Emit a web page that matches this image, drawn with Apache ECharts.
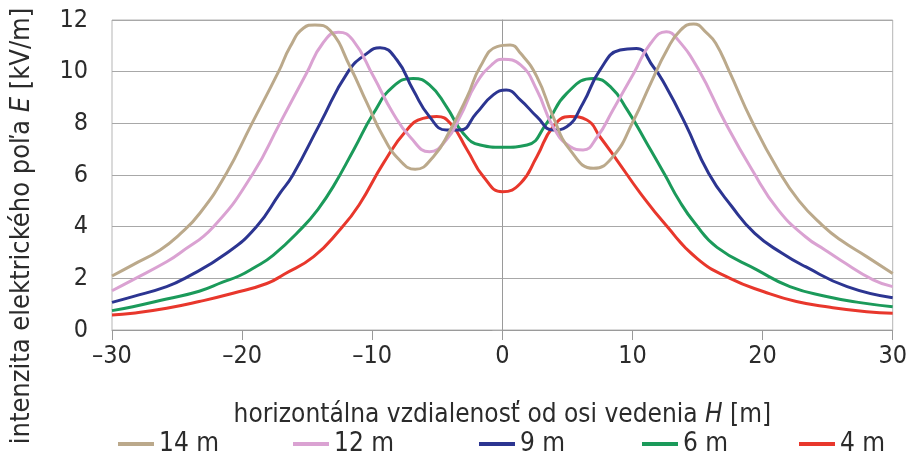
<!DOCTYPE html>
<html>
<head>
<meta charset="utf-8">
<script src="https://cdn.jsdelivr.net/npm/echarts@6/dist/echarts.min.js"></script>
<style>
  html, body { margin: 0; padding: 0; background: #fff; }
  #chart { width: 910px; height: 464px; }
</style>
</head>
<body>
<div id="chart"></div>
<script>
// vyska vodica nad zemou -> priebeh E(H), body odcitane z obrazka
var seriesNames = ["14 m", "12 m", "9 m", "6 m", "4 m"];

var x14 = [-30, -28.4, -26.3, -24.8, -23.25, -21.2, -19.3, -17.2, -16.3, -15.3, -14.4, -13.25, -11.7, -10.4, -9.15, -7.9, -6.7, -5.3, -4, -2.7, -1.7, -0.4, 0.6, 1.4, 2.65, 3.9, 5.2, 7, 8.5, 10.1, 11.4, 12.65, 13.7, 14.7, 15.7, 16.4, 17.4, 19.2, 21.2, 22.8, 24.6, 26, 28, 30];
var y14 = [2.09, 2.52, 3.1, 3.7, 4.52, 6.07, 7.94, 10.0, 10.97, 11.68, 11.81, 11.6, 10.19, 8.78, 7.48, 6.58, 6.22, 6.71, 7.74, 9.03, 10.19, 10.97, 11.03, 10.71, 9.81, 8.26, 6.97, 6.26, 6.71, 8.13, 9.55, 10.84, 11.61, 11.85, 11.5, 11.1, 10.06, 8.06, 6.19, 5.0, 4.05, 3.48, 2.84, 2.19];

var x12 = [-30, -28.4, -25.8, -24.8, -22.2, -19.15, -17.1, -15.05, -13.8, -12.6, -11.5, -9.9, -8.4, -7.1, -5.6, -4.3, -3.25, -2, -0.7, 0, 1.4, 2.65, 3.9, 5.2, 6.2, 7.3, 8.5, 10.1, 11.4, 12.6, 13.5, 15.1, 17.1, 19.2, 21.2, 23.3, 24.8, 26, 28.5, 30];
var y12 = [1.52, 1.94, 2.64, 2.97, 4.0, 6.07, 8.0, 9.94, 11.1, 11.53, 11.23, 9.81, 8.39, 7.48, 6.9, 7.36, 8.26, 9.55, 10.32, 10.48, 10.26, 9.29, 7.87, 7.1, 6.97, 7.48, 8.52, 9.94, 11.1, 11.55, 11.23, 10.06, 8.06, 6.19, 4.65, 3.61, 3.1, 2.7, 1.94, 1.68];

var x9 = [-30, -28.4, -25.8, -24.4, -21.2, -18.9, -17.1, -16.1, -14, -11.85, -10.4, -9.4, -8.1, -6.85, -5.6, -4.3, -3.25, -2, -0.7, 0.3, 1.4, 2.65, 3.9, 4.95, 6.2, 7.5, 9.05, 10.3, 11.6, 12.5, 14.05, 15.85, 17.65, 19.4, 21.5, 23.3, 26.5, 30];
var y9 = [1.07, 1.29, 1.68, 2.0, 2.97, 4.0, 5.29, 6.0, 8.0, 10.0, 10.71, 10.93, 10.45, 9.29, 8.26, 7.74, 7.74, 8.39, 9.1, 9.29, 8.9, 8.26, 7.74, 7.87, 8.78, 10.06, 10.84, 10.9, 10.19, 9.49, 8.0, 6.07, 4.77, 3.74, 2.97, 2.45, 1.68, 1.25];

var x6 = [-30, -28.4, -25.8, -23.3, -21.5, -20.2, -19.15, -17.6, -15.3, -14.2, -13, -11.4, -9.9, -8.4, -6.85, -5.6, -4.3, -3, -1.7, 0, 1.9, 3.4, 4.95, 7, 8.3, 9.6, 11.1, 12.5, 13.6, 14.8, 16.5, 19.6, 22.1, 25, 27.5, 30];
var y6 = [0.75, 0.9, 1.2, 1.5, 1.85, 2.1, 2.39, 2.9, 4.0, 4.65, 5.55, 7.0, 8.39, 9.42, 9.74, 9.49, 8.65, 7.61, 7.16, 7.07, 7.16, 8.0, 9.16, 9.74, 9.42, 8.52, 7.23, 6.0, 5.0, 4.13, 3.2, 2.32, 1.68, 1.29, 1.06, 0.9];

var x4 = [-30, -28.4, -25.8, -23.3, -20.7, -18.1, -16.8, -14.5, -12.5, -11, -9.15, -7.35, -6.1, -5.05, -4, -2.7, -1.45, 0, 1.4, 2.65, 3.9, 5.2, 6.5, 7.5, 8.8, 10.6, 12.55, 15, 17.5, 20.1, 22.6, 25.2, 28, 30];
var y4 = [0.58, 0.65, 0.84, 1.1, 1.42, 1.8, 2.15, 2.84, 3.87, 4.85, 6.45, 7.74, 8.19, 8.26, 8.0, 6.97, 5.93, 5.35, 5.68, 6.71, 7.87, 8.26, 8.13, 7.48, 6.58, 5.3, 4.07, 2.75, 2.0, 1.48, 1.1, 0.88, 0.71, 0.65];

var xTicks = [-30, -20, -10, 0, 10, 20, 30];
var yTicks = [0, 2, 4, 6, 8, 10, 12];

var colors = ["#bba98b", "#daa2d2", "#2c3591", "#1b9a5a", "#e8372c"];
var allX = [x14, x12, x9, x6, x4];
var allY = [y14, y12, y9, y6, y4];
var legendLeft = [113, 288, 474, 637, 794];

var font = "'Liberation Sans Narrow', 'DejaVu Sans Condensed', sans-serif";
var textColor = "#2b2b2b";

var chart = echarts.init(document.getElementById("chart"));

var series = seriesNames.map(function (name, k) {
  return {
    name: name,
    type: "line",
    data: allX[k].map(function (x, i) { return [x, allY[k][i]]; }),
    smooth: 0.5,
    symbol: "none",
    lineStyle: { color: colors[k], width: 3 },
    itemStyle: { color: colors[k] },
    z: 10 - k
  };
});

var legends = seriesNames.map(function (name, k) {
  return {
    data: [name],
    left: legendLeft[k],
    top: 426,
    icon: "rect",
    itemWidth: 36,
    itemHeight: 4,
    itemGap: 4,
    textStyle: { fontFamily: font, fontSize: 26, color: textColor }
  };
});

chart.setOption({
  animation: false,
  backgroundColor: "#fff",
  grid: {
    left: 112, right: 17, top: 20, bottom: 134,
    show: true, borderColor: "#b5b5b5", borderWidth: 1
  },
  legend: legends,
  xAxis: {
    type: "value",
    min: xTicks[0],
    max: xTicks[xTicks.length - 1],
    interval: 10,
    name: "{n|horizontálna vzdialenosť od osi vedenia }{i|H}{n| [m]}",
    nameLocation: "middle",
    nameGap: 72,
    nameTextStyle: {
      rich: {
        n: { fontFamily: font, fontSize: 26, color: textColor },
        i: { fontFamily: font, fontSize: 26, color: textColor, fontStyle: "italic" }
      }
    },
    axisLine: { onZero: false, lineStyle: { color: "#9a9a9a" } },
    axisTick: { show: true, length: 10, lineStyle: { color: "#9a9a9a" } },
    splitLine: { show: false },
    axisLabel: {
      margin: 14,
      fontFamily: font,
      fontSize: 25,
      color: textColor,
      formatter: function (v) { return String(v).replace("-", "\u2013"); }
    }
  },
  yAxis: {
    type: "value",
    min: yTicks[0],
    max: yTicks[yTicks.length - 1],
    interval: 2,
    axisLine: { show: true, lineStyle: { color: "#9a9a9a" } },
    axisTick: { show: true, length: 10, lineStyle: { color: "#a8a8a8" } },
    splitLine: { lineStyle: { color: "#a8a8a8", width: 1 } },
    axisLabel: {
      margin: 24,
      fontFamily: font,
      fontSize: 25,
      color: textColor
    }
  },
  graphic: [{
    type: "text",
    x: 22,
    y: 226,
    rotation: Math.PI / 2,
    style: {
      text: "{n|intenzita elektrického poľa }{i|E}{n| [kV/m]}",
      align: "center",
      verticalAlign: "middle",
      rich: {
        n: { fontFamily: font, fontSize: 27, fill: textColor },
        i: { fontFamily: font, fontSize: 27, fill: textColor, fontStyle: "italic" }
      }
    }
  }],
  series: series
});
</script>
</body>
</html>
